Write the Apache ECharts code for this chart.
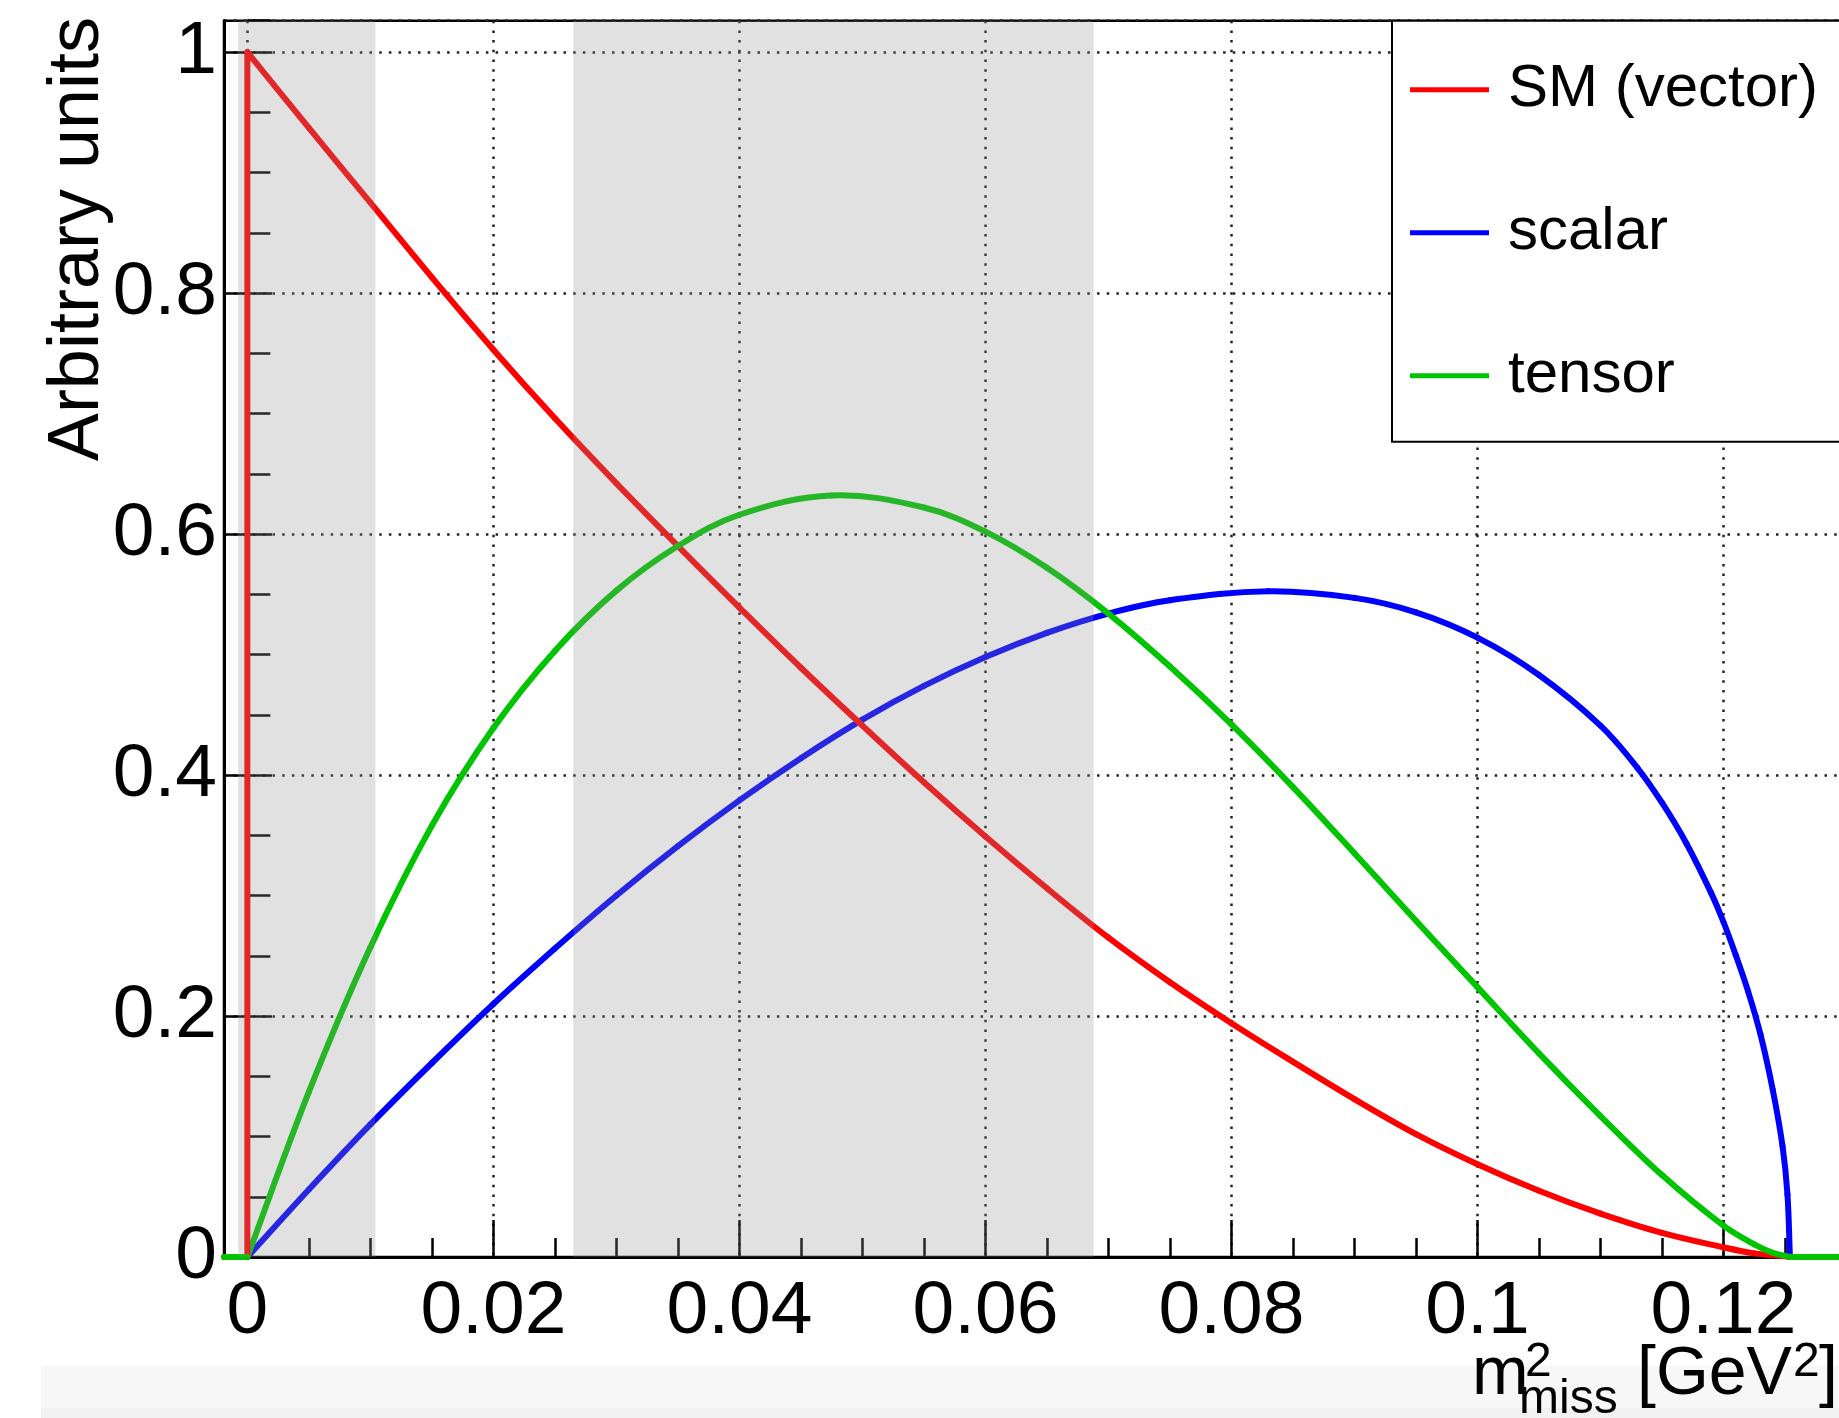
<!DOCTYPE html>
<html>
<head>
<meta charset="utf-8">
<script src="https://cdn.jsdelivr.net/npm/echarts@6.0.0/dist/echarts.min.js"></script>
<style>
html, body { margin: 0; padding: 0; background: #ffffff; }
#chart { width: 1839px; height: 1418px; }
</style>
</head>
<body>
<div id="chart"></div>
<script>
// ---------------- data ----------------
const xMin = -0.0019;
const xMax = 0.13;
const yMin = 0;
const yMax = 1.026;
const xEnd = 0.1254;

const seriesNames = ['SM (vector)', 'scalar', 'tensor'];

// SM (vector)
const smX = [0, 0.005, 0.01, 0.015, 0.02, 0.025, 0.03, 0.035, 0.04, 0.045, 0.05, 0.055, 0.06, 0.065, 0.07, 0.075, 0.08, 0.085, 0.09, 0.095, 0.1, 0.105, 0.11, 0.115, 0.12, 0.1225, 0.1254];
const smY = [1.0, 0.937, 0.875, 0.813, 0.753, 0.696, 0.642, 0.59, 0.539, 0.489, 0.441, 0.394, 0.349, 0.306, 0.265, 0.228, 0.194, 0.162, 0.131, 0.102, 0.077, 0.055, 0.036, 0.02, 0.008, 0.003, 0];
const smJumpX = [xMin, 0, 0];
const smJumpY = [0, 0, 1.0];

// scalar
const scalarX = [0, 0.005, 0.01, 0.015, 0.02, 0.025, 0.03, 0.035, 0.04, 0.045, 0.05, 0.055, 0.06, 0.065, 0.07, 0.075, 0.083, 0.09, 0.095, 0.1, 0.105, 0.11, 0.113, 0.115, 0.117, 0.119, 0.12, 0.121, 0.122, 0.123, 0.124, 0.1248, 0.1252, 0.1254];
const scalarY = [0, 0.056, 0.11, 0.161, 0.21, 0.256, 0.3, 0.341, 0.379, 0.414, 0.446, 0.474, 0.498, 0.518, 0.534, 0.545, 0.5525, 0.547, 0.535, 0.514, 0.483, 0.441, 0.406, 0.377, 0.343, 0.302, 0.278, 0.2505, 0.2205, 0.185, 0.139, 0.092, 0.052, 0];

// tensor
const tensorX = [0, 0.005, 0.01, 0.015, 0.02, 0.025, 0.03, 0.035, 0.04, 0.0475, 0.055, 0.06, 0.065, 0.07, 0.075, 0.08, 0.085, 0.09, 0.095, 0.1, 0.105, 0.11, 0.115, 0.12, 0.1225, 0.124, 0.1254];
const tensorY = [0, 0.137, 0.257, 0.358, 0.439, 0.503, 0.553, 0.59, 0.616, 0.632, 0.622, 0.602, 0.572, 0.534, 0.49, 0.442, 0.39, 0.335, 0.279, 0.224, 0.169, 0.117, 0.068, 0.026, 0.0105, 0.0035, 0];
const tensorFlatLeftX = [xMin, 0];
const tensorFlatLeftY = [0, 0];
const tensorFlatRightX = [xEnd, xMax];
const tensorFlatRightY = [0, 0];

// shaded regions [from, to]
const regionFrom = [-0.00075, 0.0265];
const regionTo = [0.0104, 0.0688];

// ---------------- helpers ----------------
function zip(xs, ys) { return xs.map((x, i) => [x, ys[i]]); }

const FONT = "'Liberation Sans', Arial, Helvetica, sans-serif";
const RED = '#ff0000', BLUE = '#0000ff', GREEN = '#00c400';
const LW = 6;
const SMOOTH = 0.36;

const gridStyle = { type: [2.5, 7.2], color: '#222', width: 2.5 };

const chart = echarts.init(document.getElementById('chart'), null, { renderer: 'canvas' });

function lineSeries(name, data, color, z) {
  return {
    type: 'line', name: name, data: data, smooth: false,
    showSymbol: false, symbol: 'none', silent: true, animation: false,
    lineStyle: { color: color, width: LW, cap: 'round', join: 'round' },
    itemStyle: { color: color }, z: z || 2, clip: true
  };
}

// smooth curve through the read points; each point draws the bezier segment to the next one,
// positions come from the axes via api.coord
function curveSeries(name, xs, ys, color, z) {
  return {
    type: 'custom', name: name, z: z || 2, silent: true, animation: false,
    coordinateSystem: 'cartesian2d',
    data: zip(xs, ys), encode: { x: 0, y: 1 },
    itemStyle: { color: color },
    renderItem: function (params, api) {
      const i = params.dataIndexInside, n = params.dataInsideLength;
      if (i >= n - 1) return null;
      const P = k => api.coord([api.value(0, k), api.value(1, k)]);
      const p0 = P(Math.max(i - 1, 0)), p1 = P(i), p2 = P(i + 1), p3 = P(Math.min(i + 2, n - 1));
      const dist = (a, b) => Math.hypot(a[0] - b[0], a[1] - b[1]);
      const d01 = dist(p0, p1), d12 = dist(p1, p2), d23 = dist(p2, p3);
      const r1 = d12 / ((d01 + d12) || 1);
      const r2 = d12 / ((d12 + d23) || 1);
      const c1 = [p1[0] + (p2[0] - p0[0]) * SMOOTH * r1, p1[1] + (p2[1] - p0[1]) * SMOOTH * r1];
      const c2 = [p2[0] - (p3[0] - p1[0]) * SMOOTH * r2, p2[1] - (p3[1] - p1[1]) * SMOOTH * r2];
      return {
        type: 'bezierCurve',
        shape: { x1: p1[0], y1: p1[1], cpx1: c1[0], cpy1: c1[1], cpx2: c2[0], cpy2: c2[1], x2: p2[0], y2: p2[1] },
        style: { stroke: color, fill: null, lineWidth: LW, lineCap: 'round' }
      };
    }
  };
}

const option = {
  animation: false,
  backgroundColor: '#ffffff',
  grid: {
    left: 224, top: 20.7, width: 1622.5, height: 1236.3,
    outerBoundsMode: 'none', containLabel: false,
    show: true, borderColor: '#000', borderWidth: 2.5, backgroundColor: 'transparent'
  },
  xAxis: [
    {
      type: 'value', min: xMin, max: xMax, splitNumber: 6,
      minInterval: 0.02, maxInterval: 0.02,
      axisLine: { show: true, onZero: false, lineStyle: { color: '#000', width: 3 } },
      axisTick: { show: true, inside: true, length: 37, lineStyle: { color: '#000', width: 2.5 } },
      axisLabel: { show: true, fontSize: 75, fontFamily: FONT, color: '#000', margin: 18,
        showMinLabel: false, showMaxLabel: false },
      splitLine: { show: true, lineStyle: gridStyle }
    },
    {
      type: 'value', min: xMin, max: xMax, position: 'bottom', splitNumber: 26,
      minInterval: 0.005, maxInterval: 0.005,
      axisLine: { show: false },
      axisTick: { show: true, inside: true, length: 19, lineStyle: { color: '#000', width: 2.5 } },
      axisLabel: { show: false },
      splitLine: { show: false }
    }
  ],
  yAxis: [
    {
      type: 'value', min: yMin, max: yMax, interval: 0.2,
      axisLine: { show: true, onZero: false, lineStyle: { color: '#000', width: 3 } },
      axisTick: { show: true, inside: true, length: 48, lineStyle: { color: '#000', width: 2.5 } },
      axisLabel: { show: true, fontSize: 75, fontFamily: FONT, color: '#000', margin: 7,
        showMaxLabel: false },
      splitLine: { show: true, lineStyle: gridStyle }
    },
    {
      type: 'value', min: yMin, max: yMax, interval: 0.05, position: 'left',
      axisLine: { show: false },
      axisTick: { show: true, inside: true, length: 23, lineStyle: { color: '#000', width: 2.5 } },
      axisLabel: { show: false },
      splitLine: { show: false }
    }
  ],
  legend: {
    data: seriesNames,
    orient: 'vertical', left: 1392, top: 20.7,
    padding: [39, 60, 36, 18],
    itemWidth: 79, itemHeight: 5, itemGap: 83, icon: 'rect',
    backgroundColor: '#ffffff', borderColor: '#000', borderWidth: 2,
    selectedMode: false,
    textStyle: { fontSize: 60, fontFamily: FONT, color: '#000', padding: [0, 0, 0, 14] }
  },
  graphic: [
    { type: 'rect', z: -10, silent: true, shape: { x: 41, y: 1366, width: 1798, height: 42 }, style: { fill: '#f7f7f7' } },
    { type: 'rect', z: -10, silent: true, shape: { x: 41, y: 1408, width: 1798, height: 10 }, style: { fill: '#f1f1f1' } },
    { type: 'text', z: 50, x: 77.7, y: 17, rotation: Math.PI / 2,
      style: { text: 'Arbitrary units', font: "72px " + FONT, fill: '#000', align: 'right', verticalAlign: 'middle' } },
    { type: 'text', z: 50, x: 1472, y: 1375.4, style: { text: 'm', font: "68px " + FONT, fill: '#000', align: 'left', verticalAlign: 'middle' } },
    { type: 'text', z: 50, x: 1525, y: 1362.4, style: { text: '2', font: "48px " + FONT, fill: '#000', align: 'left', verticalAlign: 'middle' } },
    { type: 'text', z: 50, x: 1519, y: 1399.4, style: { text: 'miss', font: "48px " + FONT, fill: '#000', align: 'left', verticalAlign: 'middle' } },
    { type: 'text', z: 50, x: 1637, y: 1375.4, style: { text: '[GeV', font: "68px " + FONT, fill: '#000', align: 'left', verticalAlign: 'middle' } },
    { type: 'text', z: 50, x: 1793, y: 1362.4, style: { text: '2', font: "48px " + FONT, fill: '#000', align: 'left', verticalAlign: 'middle' } },
    { type: 'text', z: 50, x: 1819, y: 1375.4, style: { text: ']', font: "68px " + FONT, fill: '#000', align: 'left', verticalAlign: 'middle' } }
  ],
  series: [
    curveSeries('scalar', scalarX, scalarY, BLUE, 2),
    lineSeries('SM (vector)', zip(smJumpX, smJumpY), RED, 2),
    curveSeries('SM (vector)', smX, smY, RED, 2),
    curveSeries('tensor', tensorX, tensorY, GREEN, 2),
    lineSeries('tensor', zip(tensorFlatLeftX, tensorFlatLeftY), GREEN, 2),
    lineSeries('tensor', zip(tensorFlatRightX, tensorFlatRightY), GREEN, 2),
    {
      type: 'custom', name: 'regions', silent: true, z: 10, animation: false,
      encode: { x: [0, 1] },
      data: regionFrom.map((f, i) => [f, regionTo[i]]),
      renderItem: function (params, api) {
        const p0 = api.coord([api.value(0), yMax]);
        const p1 = api.coord([api.value(1), yMin]);
        return {
          type: 'rect',
          shape: { x: p0[0], y: p0[1], width: p1[0] - p0[0], height: p1[1] - p0[1] },
          style: { fill: 'rgba(145,145,145,0.27)' }
        };
      }
    }
  ]
};

chart.setOption(option);
</script>
</body>
</html>
